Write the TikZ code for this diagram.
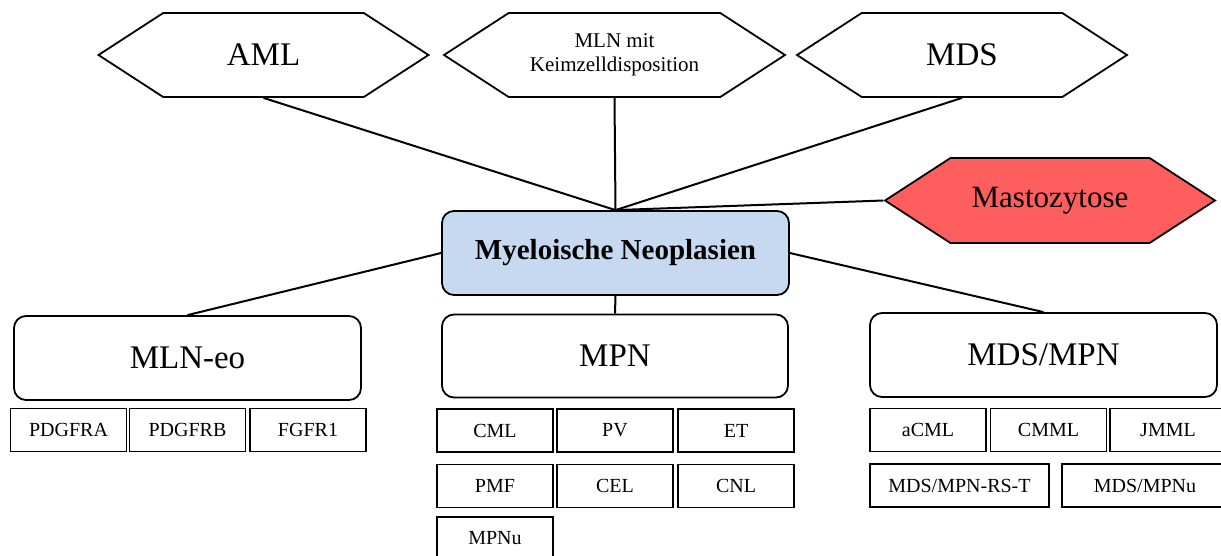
\documentclass[tikz,border=0pt]{standalone}
\usepackage{fontspec}
\setmainfont{Liberation Serif}
\usetikzlibrary{shapes.symbols}
\definecolor{myeloblue}{RGB}{198,217,240}
\definecolor{mastred}{RGB}{255,94,94}

\begin{document}
\begin{tikzpicture}[
        x=1pt, y=-1pt,
        hexa/.style={signal, signal to=west and east, signal pointer angle=66, draw, line width=1.8pt, fill=white, align=center, minimum width=330pt, minimum height=84pt, inner sep=2pt, font=\fontsize{33}{36}\selectfont},
        group/.style={draw, rounded corners=12pt, line width=1.8pt, fill=white, minimum width=346pt, minimum height=83pt, font=\fontsize{33}{36}\selectfont},
        sub/.style={draw, line width=1.4pt, minimum width=116pt, minimum height=43pt, inner sep=2pt, font=\fontsize{20}{23}\selectfont},
        conn/.style={line width=2pt}
    ]
        \useasboundingbox (0,0) rectangle (1221,555);

        \node[hexa] (aml) at (263.5,55) {AML};
        \node[hexa, minimum width=341pt, font=\fontsize{21}{24}\selectfont] (keim) at (614.5,55) {MLN mit\\Keimzelldisposition};
        \node[hexa] (mds) at (962,55) {MDS};
        \node[hexa, fill=mastred, minimum height=85pt, font=\fontsize{31}{34}\selectfont] (mast) at (1050,200.5) {Mastozytose};

        \node[group, fill=myeloblue, minimum width=347pt, minimum height=84pt, font=\fontsize{29}{32}\selectfont\bfseries] (myelo) at (615.5,253) {Myeloische Neoplasien};

        \node[group, minimum width=347pt, minimum height=84pt] (mlneo) at (187.5,358) {MLN-eo};
        \node[group] (mpn) at (615,356) {MPN};
        \node[group, minimum width=347pt, minimum height=84pt] (mdsmpn) at (1043.5,355) {MDS/MPN};

        % MLN-eo
        \node[sub] (pdgfra) at (68.5,430) {PDGFRA};
        \node[sub] (pdgfrb) at (187.5,430) {PDGFRB};
        \node[sub] (fgfr1) at (308,430) {FGFR1};

        % MPN
        \node[sub] (cml) at (495,430.5) {CML};
        \node[sub] (pv) at (615,430.5) {PV};
        \node[sub] (et) at (736,430.5) {ET};
        \node[sub] (pmf) at (495,486) {PMF};
        \node[sub] (cel) at (615,486) {CEL};
        \node[sub] (cnl) at (736,486) {CNL};
        \node[sub] (mpnu) at (495,538.5) {MPNu};

        % MDS/MPN
        \node[sub] (acml) at (928,430) {aCML};
        \node[sub] (cmml) at (1048.5,430) {CMML};
        \node[sub] (jmml) at (1168,430) {JMML};
        \node[sub, minimum width=179pt] (rst) at (959.5,485.5) {MDS/MPN-RS-T};
        \node[sub, minimum width=166pt] (mdsmpnu) at (1145,485.5) {MDS/MPNu};

        \draw[conn] (aml.south) -- (myelo.north);
        \draw[conn] (keim.south) -- (myelo.north);
        \draw[conn] (mds.south) -- (myelo.north);
        \draw[conn] (mast.west) -- (myelo.north);
        \draw[conn] (myelo.west) -- (mlneo.north);
        \draw[conn] (myelo.south) -- (mpn.north);
        \draw[conn] (myelo.east) -- (mdsmpn.north);
    \end{tikzpicture}
\end{document}
